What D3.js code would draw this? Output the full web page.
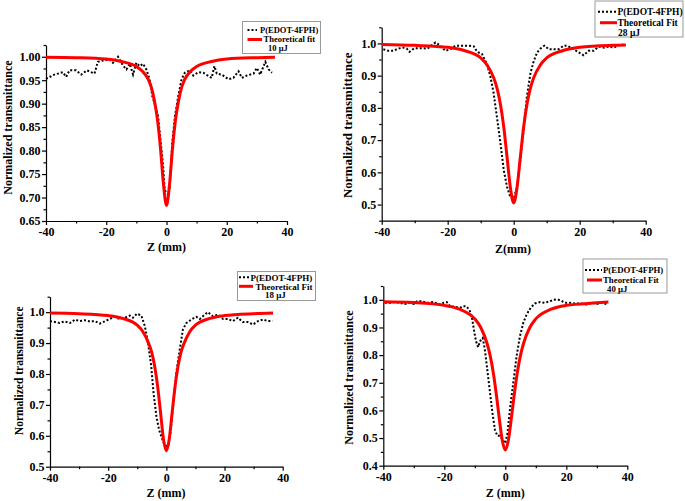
<!DOCTYPE html>
<html>
<head>
<meta charset="utf-8">
<script src="https://cdn.jsdelivr.net/npm/d3@7"></script>
<style>
  body { margin: 0; background: #fff; }
  svg text { font-family: "Liberation Serif", "Times New Roman", serif; font-weight: bold; fill: #000; }
</style>
</head>
<body>
<svg width="685" height="501"></svg>
<script>
const data10 = [[-40,0.953],[-37.2,0.962],[-34.4,0.967],[-33.3,0.957],[-32.2,0.971],[-30,0.971],[-28.3,0.962],[-26.4,0.971],[-23.9,0.964],[-22.8,0.989],[-21.1,0.992],[-18.9,0.994],[-17.8,0.987],[-16.1,1.000],[-14.4,0.981],[-13.3,0.973],[-12.2,0.985],[-11.1,0.962],[-10,0.987],[-8.9,0.980],[-7.8,0.985],[-6.7,0.973],[-5.6,0.952],[-4.7,0.916],[-3.7,0.895],[-2.8,0.873],[-2,0.823],[-1.1,0.766],[-0.6,0.716],[0.6,0.706],[1.1,0.724],[1.9,0.816],[2.8,0.873],[3.9,0.916],[5,0.952],[6.1,0.966],[7.8,0.971],[8.9,0.960],[10.6,0.967],[12.2,0.966],[13.9,0.959],[15,0.955],[15.9,0.980],[16.7,0.964],[18.3,0.962],[20.6,0.952],[22.2,0.955],[23.9,0.969],[25,0.955],[26.7,0.960],[28.9,0.964],[30,0.976],[31.1,0.962],[32.8,0.989],[33.9,0.973],[35,0.966]];
const data28 = [[-39.5,0.982],[-38,0.977],[-36.5,0.977],[-35,0.984],[-33.4,0.987],[-32.4,0.984],[-31.6,0.974],[-30.1,0.985],[-27.8,0.985],[-26.1,0.984],[-23.7,1.003],[-22.2,0.993],[-20.7,0.977],[-19.2,0.982],[-17.7,0.993],[-16.2,0.993],[-13.6,0.993],[-12.1,0.991],[-11.1,0.974],[-9.6,0.967],[-8.1,0.935],[-7.1,0.899],[-6.1,0.847],[-5.1,0.773],[-4,0.690],[-3,0.606],[-2,0.554],[-1,0.523],[0,0.518],[1,0.554],[2,0.638],[3,0.732],[4,0.836],[5.1,0.909],[6.1,0.946],[7.1,0.972],[8.1,0.984],[9.3,0.993],[10.6,0.982],[12.1,0.982],[13.6,0.982],[15.2,0.993],[16.2,0.993],[18.2,0.982],[19.7,0.972],[21.2,0.963],[22.7,0.977],[24.2,0.977],[25.8,0.990],[27.3,0.987],[28.8,0.990],[30.3,0.987],[31.8,0.995],[33.3,0.996]];
const data18 = [[-40,0.971],[-38.3,0.968],[-36.7,0.965],[-35,0.970],[-33.1,0.965],[-31.4,0.976],[-29.8,0.971],[-28.1,0.974],[-26.3,0.970],[-24.6,0.971],[-22.9,0.963],[-21.2,0.970],[-19.5,0.978],[-17.8,0.985],[-16,0.978],[-14.3,0.982],[-12.6,0.989],[-11.5,0.982],[-10.1,0.995],[-8.6,0.989],[-7.4,0.955],[-6.3,0.900],[-5.2,0.825],[-4.4,0.738],[-3.4,0.662],[-2.5,0.619],[-1.5,0.592],[-0.6,0.570],[0.6,0.565],[1.4,0.608],[2.3,0.695],[3.4,0.803],[4.6,0.879],[5.7,0.944],[6.9,0.965],[8.6,0.976],[10.3,0.985],[11.5,0.978],[13.2,0.992],[14.3,1.000],[16,0.987],[17.8,0.992],[19.5,0.978],[21.2,0.978],[22.9,0.971],[24.6,0.982],[26.3,0.968],[28,0.968],[29.8,0.960],[31.5,0.971],[33.2,0.976],[35,0.971],[36.5,0.971]];
const data40 = [[-39.5,0.989],[-38,0.989],[-36.2,0.992],[-34.5,0.989],[-32.9,0.985],[-31.3,0.989],[-30,0.985],[-28.9,0.995],[-27.4,0.995],[-25.6,0.989],[-23.6,0.992],[-21.6,0.983],[-20.3,0.989],[-19.2,0.992],[-18.1,0.977],[-16.5,0.975],[-14.8,0.971],[-14,0.977],[-12.9,0.977],[-11.8,0.965],[-11,0.941],[-10.3,0.892],[-9.6,0.850],[-8.9,0.829],[-8.3,0.850],[-7.4,0.862],[-6.7,0.820],[-5.9,0.747],[-5,0.663],[-4.2,0.590],[-3.4,0.530],[-2.6,0.508],[-1.7,0.508],[-0.9,0.493],[0,0.481],[0.7,0.517],[1.5,0.602],[2.6,0.699],[3.7,0.796],[4.8,0.868],[5.9,0.917],[7,0.947],[8.3,0.971],[9.7,0.987],[11.4,0.992],[13,0.989],[14.6,0.995],[16.3,1.001],[18,0.999],[19.6,0.989],[21.2,0.989],[22.9,0.987],[24.5,0.987],[26.7,0.983],[28.3,0.989],[30,0.985],[31.6,0.989],[33.2,0.985]];

// theoretical fit curves
const fit10 = [[-40,0.999],[-30,0.998],[-20,0.995],[-15,0.990],[-10,0.979],[-8,0.969],[-6,0.951],[-5,0.934],[-4,0.906],[-3,0.866],[-2,0.805],[-1,0.728],[0,0.683],[1,0.728],[2,0.805],[3,0.866],[4,0.906],[5,0.934],[6,0.951],[8,0.969],[10,0.979],[15,0.990],[20,0.995],[30,0.998],[36,0.999]];
const fit28 = [[-40,0.997],[-30,0.994],[-20,0.988],[-15,0.978],[-10,0.955],[-8,0.932],[-6,0.892],[-5,0.859],[-4,0.810],[-3,0.740],[-2,0.646],[-1,0.552],[0,0.505],[1,0.552],[2,0.646],[3,0.740],[4,0.810],[5,0.859],[6,0.892],[8,0.932],[10,0.955],[15,0.978],[20,0.988],[30,0.994],[34,0.995]];
const fit18 = [[-40,0.997],[-30,0.995],[-20,0.989],[-15,0.980],[-10,0.958],[-8,0.936],[-6,0.897],[-5,0.869],[-4,0.824],[-3,0.760],[-2,0.676],[-1,0.590],[0,0.551],[1,0.590],[2,0.676],[3,0.760],[4,0.824],[5,0.869],[6,0.897],[8,0.936],[10,0.958],[15,0.980],[20,0.989],[30,0.995],[36.7,0.997]];
const fit40 = [[-40,0.993],[-30,0.990],[-20,0.980],[-15,0.966],[-10,0.931],[-8,0.899],[-6,0.843],[-5,0.800],[-4,0.741],[-3,0.663],[-2,0.573],[-1,0.492],[0,0.457],[1,0.492],[2,0.573],[3,0.663],[4,0.741],[5,0.800],[6,0.843],[8,0.899],[10,0.931],[15,0.966],[20,0.980],[30,0.989],[33.8,0.992]];

// tick values
const zTicks = [-40, -20, 0, 20, 40];
const zMinor = [-30, -10, 10, 30];
const yTicks10 = [0.65, 0.70, 0.75, 0.80, 0.85, 0.90, 0.95, 1.00];
const yMinor10 = [0.675, 0.725, 0.775, 0.825, 0.875, 0.925, 0.975, 1.025];
const yTicks28 = [0.5, 0.6, 0.7, 0.8, 0.9, 1.0];
const yMinor28 = [0.45, 0.55, 0.65, 0.75, 0.85, 0.95, 1.05];
const yTicks18 = [0.5, 0.6, 0.7, 0.8, 0.9, 1.0];
const yMinor18 = [0.55, 0.65, 0.75, 0.85, 0.95, 1.05];
const yTicks40 = [0.4, 0.5, 0.6, 0.7, 0.8, 0.9, 1.0];
const yMinor40 = [0.45, 0.55, 0.65, 0.75, 0.85, 0.95, 1.05];

const seriesName = 'P(EDOT-4FPH)';

const svg = d3.select('svg');

// layout of the four panels (pixel boxes, fonts, legend placement)
const panels = [
  { data: data10, fit: fit10, energy: '10 μJ', fitName: 'Theoretical fit',
    left: 46, right: 287, top: 45, bottom: 221, yDomain: [0.65, 1.025],
    yTicks: yTicks10, yMinor: yMinor10, yFmt: '.2f', xTitle: 'Z (mm)',
    xTitleX: 166.5, xTitleY: 251, yTitleX: 11.5, yTitleY: 127.5, yTitleSize: 12,
    legend: { x: 242.5, y: 21.5, w: 78, h: 32, size: 8.5,
      dot: [247.5, 257, 30], dotText: [260, 32.5],
      fitLine: [247.5, 262, 39.5], fitText: [263.5, 42.3], eText: [268, 51] } },
  { data: data28, fit: fit28, energy: '28 μJ', fitName: 'Theoretical Fit',
    left: 381.7, right: 645.7, top: 27.3, bottom: 220.7, yDomain: [0.45, 1.05],
    yTicks: yTicks28, yMinor: yMinor28, yFmt: '.1f', xTitle: 'Z(mm)',
    xTitleX: 513, xTitleY: 252.5, yTitleX: 351.5, yTitleY: 125.3, yTitleSize: 13,
    legend: { x: 595, y: 1, w: 88, h: 36, size: 9.5,
      dot: [598, 617, 11.7], dotText: [617.5, 15],
      fitLine: [600, 617, 22.7], fitText: [617.5, 26], eText: [618, 35.5] } },
  { data: data18, fit: fit18, energy: '18 μJ', fitName: 'Theoretical Fit',
    left: 50, right: 282.7, top: 296.7, bottom: 466.7, yDomain: [0.5, 1.05],
    yTicks: yTicks18, yMinor: yMinor18, yFmt: '.1f', xTitle: 'Z (mm)',
    xTitleX: 166, xTitleY: 496.5, yTitleX: 22.5, yTitleY: 370.8, yTitleSize: 11.5,
    legend: { x: 237.5, y: 271.5, w: 78, h: 29, size: 9,
      dot: [239, 250, 277.3], dotText: [250.5, 280.5],
      fitLine: [239, 253, 286.3], fitText: [255.5, 289.5], eText: [265, 298] } },
  { data: data40, fit: fit40, energy: '40 μJ', fitName: 'Theoretical Fit',
    left: 383.3, right: 627.3, top: 286, bottom: 465.7, yDomain: [0.4, 1.05],
    yTicks: yTicks40, yMinor: yMinor40, yFmt: '.1f', xTitle: 'Z (mm)',
    xTitleX: 505.3, xTitleY: 496.5, yTitleX: 352.5, yTitleY: 377.5, yTitleSize: 12,
    legend: { x: 583, y: 259, w: 84, h: 34, size: 8.8,
      dot: [585, 602, 270], dotText: [603, 273],
      fitLine: [587, 602, 280], fitText: [603, 283], eText: [607, 291.5] } }
];

const styleAxis = (g) => {
  g.attr('font-family', null).attr('font-size', 12);
  g.select('.domain').attr('stroke', '#000').attr('stroke-width', 1.2);
  g.selectAll('.tick line').attr('stroke', '#000').attr('stroke-width', 1.2);
};

panels.forEach(p => {
  const x = d3.scaleLinear().domain([-40, 40]).range([p.left, p.right]);
  const y = d3.scaleLinear().domain(p.yDomain).range([p.bottom, p.top]);
  const g = svg.append('g');

  // axes: major ticks with labels, minor ticks without
  g.append('g').attr('transform', `translate(0,${p.bottom})`)
    .call(d3.axisBottom(x).tickValues(zMinor).tickSize(2.5).tickSizeOuter(0).tickFormat(''))
    .call(a => a.select('.domain').remove())
    .call(styleAxis);
  g.append('g').attr('transform', `translate(0,${p.bottom})`)
    .call(d3.axisBottom(x).tickValues(zTicks).tickSize(4).tickPadding(2.5).tickSizeOuter(0)
      .tickFormat(d => String(d)))
    .call(styleAxis);
  g.append('g').attr('transform', `translate(${p.left},0)`)
    .call(d3.axisLeft(y).tickValues(p.yMinor).tickSize(2.5).tickSizeOuter(0).tickFormat(''))
    .call(a => a.select('.domain').remove())
    .call(styleAxis);
  g.append('g').attr('transform', `translate(${p.left},0)`)
    .call(d3.axisLeft(y).tickValues(p.yTicks).tickSize(4).tickPadding(1.5).tickSizeOuter(0)
      .tickFormat(d3.format(p.yFmt)))
    .call(styleAxis);

  // axis titles
  g.append('text')
    .attr('x', p.xTitleX).attr('y', p.xTitleY)
    .attr('text-anchor', 'middle').attr('font-size', 12)
    .text(p.xTitle);
  g.append('text')
    .attr('transform', `translate(${p.yTitleX},${p.yTitleY}) rotate(-90)`)
    .attr('text-anchor', 'middle').attr('font-size', p.yTitleSize)
    .text('Normalized transmittance');

  // measured data as a dotted line
  const line = d3.line().x(d => x(d[0])).y(d => y(d[1]));
  g.append('path')
    .datum(p.data)
    .attr('fill', 'none')
    .attr('stroke', '#000')
    .attr('stroke-width', 2)
    .attr('stroke-dasharray', '2,2')
    .attr('d', line);

  // fitted curve
  g.append('path')
    .datum(p.fit)
    .attr('fill', 'none')
    .attr('stroke', '#ff0000')
    .attr('stroke-width', 3)
    .attr('d', line.curve(d3.curveMonotoneX));

  // legend
  const L = p.legend;
  const lg = svg.append('g');
  lg.append('rect')
    .attr('x', L.x).attr('y', L.y).attr('width', L.w).attr('height', L.h)
    .attr('fill', '#fff').attr('stroke', '#999').attr('stroke-width', 1);
  lg.append('line')
    .attr('x1', L.dot[0]).attr('x2', L.dot[1]).attr('y1', L.dot[2]).attr('y2', L.dot[2])
    .attr('stroke', '#000').attr('stroke-width', 2).attr('stroke-dasharray', '2,2');
  lg.append('line')
    .attr('x1', L.fitLine[0]).attr('x2', L.fitLine[1]).attr('y1', L.fitLine[2]).attr('y2', L.fitLine[2])
    .attr('stroke', '#ff0000').attr('stroke-width', 3);
  lg.append('text').attr('x', L.dotText[0]).attr('y', L.dotText[1])
    .attr('font-size', L.size).text(seriesName);
  lg.append('text').attr('x', L.fitText[0]).attr('y', L.fitText[1])
    .attr('font-size', L.size).text(p.fitName);
  lg.append('text').attr('x', L.eText[0]).attr('y', L.eText[1])
    .attr('font-size', L.size).text(p.energy);
});
</script>
</body>
</html>
